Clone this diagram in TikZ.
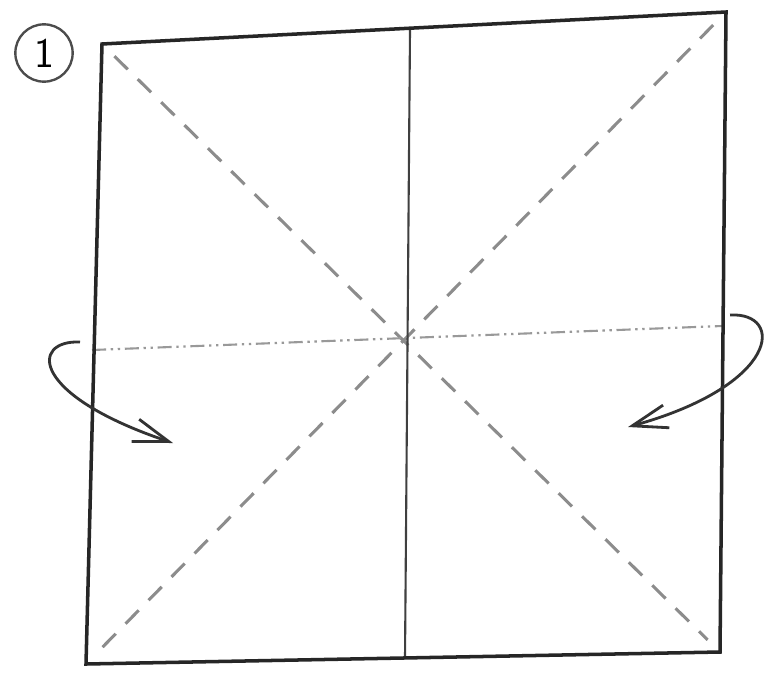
\documentclass[tikz,border=0pt]{standalone}
\usepackage{tikz}
\usetikzlibrary{arrows.meta,calc}

\begin{document}
\begin{tikzpicture}[
        x=0.03cm, y=-0.03cm,
        edge/.style={line width=3pt, draw=black!85, line join=miter},
        crease/.style={line width=1.8pt, draw=black!75},
        valley/.style={line width=2.6pt, draw=black!45, dash pattern=on 16pt off 12pt},
        mountain/.style={line width=1.8pt, draw=black!40, dash pattern=on 12pt off 4pt on 2pt off 4pt on 2pt off 4pt},
        fold/.style={line width=2.4pt, draw=black!80, -{Straight Barb[length=30pt, width=20pt]}},
        stepnum/.style={circle, draw=black!70, line width=2pt, minimum size=1.72cm, inner sep=0pt, font=\sffamily\fontsize{36}{36}\selectfont}
      ]
      \useasboundingbox[fill=white] (0,0) rectangle (768,672);

      % Corners of the sheet
      \coordinate (tl) at (102,44);
      \coordinate (tr) at (726,12);
      \coordinate (br) at (720,652);
      \coordinate (bl) at (86,664);
      \coordinate (ctop) at (410,30);
      \coordinate (cbot) at (405,658);
      \coordinate (mleft) at (92,350);
      \coordinate (mright) at (722,326);

      % Step number
      \node[stepnum] (num) at (44,53) {1};

      % Creases
      \draw[valley] ($(tl)!0.02!(br)$) -- ($(tl)!0.98!(br)$);
      \draw[valley] ($(tr)!0.02!(bl)$) -- ($(tr)!0.98!(bl)$);
      \draw[mountain] (mleft) -- (mright);
      \draw[crease] (ctop) -- (cbot);

      % Sheet
      \draw[edge] (tl) -- (tr) -- (br) -- (bl) -- cycle;

      % Fold arrows
      \coordinate (la) at (80,342);
      \coordinate (lb) at (173,443);
      \coordinate (ra) at (730,315);
      \coordinate (rb) at (628,427);
      \draw[fold] (la) .. controls (30,340) and (30,395) .. (lb);
      \draw[fold] (ra) .. controls (785,312) and (780,385) .. (rb);

    \end{tikzpicture}
\end{document}
